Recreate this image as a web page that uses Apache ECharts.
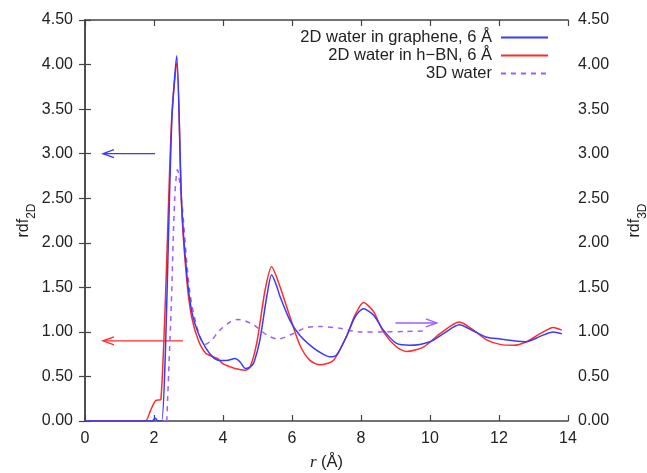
<!DOCTYPE html>
<html>
<head>
<meta charset="utf-8">
<script src="https://cdn.jsdelivr.net/npm/echarts@6/dist/echarts.min.js"></script>
<style>
  html, body { margin: 0; padding: 0; background: #fff; }
  #main { width: 647px; height: 473px; }
</style>
</head>
<body>
<div id="main"></div>
<script>
// r values (Å) and rdf values
var rGraphene = [0, 1.95, 2.0, 2.05, 2.1, 2.22, 2.52, 2.66, 2.8, 2.95, 3.1, 3.3, 3.5, 3.7, 3.9, 4.1, 4.35, 4.5, 4.65, 4.8, 4.9, 5.07, 5.27, 5.41, 5.55, 5.65, 5.94, 6.23, 6.62, 6.9, 7.1, 7.29, 7.58, 7.83, 8.07, 8.36, 8.65, 9.03, 9.42, 10.0, 10.39, 10.85, 11.26, 11.64, 12.03, 12.42, 12.8, 13.19, 13.57, 13.82];
var gGraphene = [0, 0, 0.02, 0.03, 0, 0, 3.4, 4.1, 2.45, 1.65, 1.22, 0.97, 0.82, 0.72, 0.68, 0.68, 0.70, 0.66, 0.59, 0.61, 0.66, 0.91, 1.40, 1.64, 1.52, 1.40, 1.13, 0.96, 0.82, 0.75, 0.72, 0.74, 0.95, 1.17, 1.26, 1.19, 1.02, 0.87, 0.85, 0.89, 0.98, 1.08, 1.01, 0.94, 0.92, 0.90, 0.89, 0.95, 1.00, 0.98];

var rHBN = [0, 1.74, 1.9, 2.05, 2.2, 2.51, 2.66, 2.8, 2.95, 3.09, 3.29, 3.5, 3.72, 3.85, 4.0, 4.35, 4.64, 4.78, 4.98, 5.22, 5.41, 5.65, 5.94, 6.23, 6.52, 6.81, 7.2, 7.58, 7.83, 8.07, 8.36, 8.65, 9.03, 9.32, 9.81, 10.29, 10.85, 11.26, 11.64, 12.03, 12.42, 12.8, 13.19, 13.57, 13.82];
var gHBN = [0, 0, 0.12, 0.23, 0.24, 3.38, 4.02, 2.4, 1.58, 1.17, 0.9, 0.76, 0.72, 0.7, 0.64, 0.59, 0.57, 0.6, 0.88, 1.47, 1.73, 1.51, 1.17, 0.85, 0.68, 0.63, 0.68, 0.95, 1.19, 1.33, 1.23, 1.0, 0.83, 0.78, 0.83, 0.98, 1.11, 1.02, 0.91, 0.86, 0.85, 0.89, 0.98, 1.05, 1.02];

var r3D = [2.37, 2.5, 2.6, 2.68, 2.8, 3.04, 3.29, 3.48, 3.65, 3.91, 4.2, 4.44, 4.88, 5.27, 5.6, 5.94, 6.43, 6.81, 7.39, 7.97, 8.64, 9.3, 9.9];
var g3D = [0, 1.3, 2.5, 2.82, 2.48, 1.44, 0.99, 0.86, 0.9, 1.02, 1.11, 1.14, 1.08, 0.965, 0.92, 0.965, 1.05, 1.06, 1.04, 1.0, 1.0, 1.005, 1.01];

var seriesNames = ['2D water in graphene, 6 Å', '2D water in h\u2212BN, 6 Å', '3D water'];

// arrows: [x from, y, x to, y]
var arrowBlue = [2.03, 3.0, 0.52, 3.0];
var arrowRed = [2.84, 0.9, 0.52, 0.9];
var arrowPurple = [9.0, 1.1, 10.2, 1.1];

function pairs(xs, ys) {
    var out = [];
    for (var i = 0; i < xs.length; i++) {
        out.push([xs[i], ys[i]]);
    }
    return out;
}

var fontFam = '"Liberation Sans", Arial, sans-serif';
var axisColor = '#444';
var textColor = '#222';

function arrowItem(params, api) {
    var p0 = api.coord([api.value(0), api.value(1)]);
    var p1 = api.coord([api.value(2), api.value(3)]);
    var dx = p1[0] - p0[0], dy = p1[1] - p0[1];
    var len = Math.sqrt(dx * dx + dy * dy);
    var ux = dx / len, uy = dy / len;
    var hl = 11, hw = 4;
    var color = api.visual('color');
    return {
        type: 'group',
        children: [{
            type: 'line',
            shape: {x1: p0[0], y1: p0[1], x2: p1[0], y2: p1[1]},
            style: {stroke: color, lineWidth: 1.3}
        }, {
            type: 'polyline',
            shape: {points: [
                [p1[0] - ux * hl - uy * hw, p1[1] - uy * hl + ux * hw],
                [p1[0], p1[1]],
                [p1[0] - ux * hl + uy * hw, p1[1] - uy * hl - ux * hw]
            ]},
            style: {stroke: color, lineWidth: 1.3, fill: null}
        }]
    };
}

function arrowSeries(arr, color) {
    return {
        type: 'custom',
        renderItem: arrowItem,
        itemStyle: {color: color},
        encode: {x: [0, 2], y: [1, 3]},
        data: [arr],
        silent: true,
        z: 1
    };
}

var yAxisBase = {
    type: 'value',
    min: 0,
    max: 4.5,
    interval: 0.5,
    nameLocation: 'middle',
    nameRotate: 90,
    nameMoveOverlap: false,
    axisLine: {show: true, lineStyle: {color: axisColor, width: 1.5}},
    axisTick: {show: true, inside: true, length: 6, lineStyle: {color: axisColor, width: 1.2}},
    splitLine: {show: false},
    axisLabel: {
        color: textColor, fontSize: 16, fontFamily: fontFam,
        formatter: function (v) { return v.toFixed(2); }
    }
};

var nameRich = {
    a: {fontSize: 16, fontFamily: fontFam, color: textColor},
    s: {fontSize: 12, fontFamily: fontFam, color: textColor, verticalAlign: 'bottom', padding: [0, 0, -6, 0]}
};

var dom = document.getElementById('main');
var myChart = echarts.init(dom);
var option = {
    backgroundColor: '#fff',
    animation: false,
    grid: {left: 85, right: 79, top: 20, bottom: 52, containLabel: false, outerBoundsMode: 'none'},
    legend: {
        orient: 'vertical',
        right: 93,
        top: 24,
        align: 'right',
        itemWidth: 47,
        itemHeight: 10,
        itemGap: 1,
        selectedMode: false,
        data: seriesNames,
        itemStyle: {opacity: 0},
        textStyle: {color: textColor, fontSize: 16.5, fontFamily: fontFam, padding: [0, 4, 0, 0]}
    },
    xAxis: [{
        type: 'value',
        min: 0,
        max: 14,
        interval: 2,
        name: '{i|r} (Å)',
        nameLocation: 'middle',
        nameGap: 33,
        nameMoveOverlap: false,
        nameTextStyle: {
            rich: {
                i: {fontSize: 17, fontFamily: '"Liberation Serif", serif', fontStyle: 'italic', color: textColor}
            },
            fontSize: 16.5, fontFamily: fontFam, color: textColor
        },
        axisLine: {show: true, onZero: false, lineStyle: {color: axisColor, width: 1.5}},
        axisTick: {show: true, inside: true, length: 6, lineStyle: {color: axisColor, width: 1.2}},
        splitLine: {show: false},
        axisLabel: {color: textColor, fontSize: 16, fontFamily: fontFam, margin: 10}
    }, {
        type: 'value',
        position: 'top',
        min: 0,
        max: 14,
        interval: 2,
        axisLine: {show: true, onZero: false, lineStyle: {color: axisColor, width: 1.5}},
        axisTick: {show: true, inside: true, length: 6, lineStyle: {color: axisColor, width: 1.2}},
        splitLine: {show: false},
        axisLabel: {show: false}
    }],
    yAxis: [
        echarts.util.merge({
            position: 'left',
            name: '{a|rdf}{s|2D}',
            nameGap: 53,
            nameTextStyle: {rich: nameRich},
            axisLabel: {margin: 12}
        }, yAxisBase),
        echarts.util.merge({
            position: 'right',
            name: '{a|rdf}{s|3D}',
            nameGap: 59,
            nameTextStyle: {rich: nameRich},
            axisLabel: {margin: 10}
        }, yAxisBase)
    ],
    series: [{
        name: seriesNames[0],
        type: 'line',
        data: pairs(rGraphene, gGraphene),
        symbol: 'none',
        smooth: 0.25,
        lineStyle: {color: '#3a3aff', width: 1.5},
        itemStyle: {color: '#3a3aff'},
        z: 3
    }, {
        name: seriesNames[1],
        type: 'line',
        data: pairs(rHBN, gHBN),
        symbol: 'none',
        smooth: 0.25,
        lineStyle: {color: '#ff2a2a', width: 1.5},
        itemStyle: {color: '#ff2a2a'},
        z: 2
    }, {
        name: seriesNames[2],
        type: 'line',
        yAxisIndex: 1,
        data: pairs(r3D, g3D),
        symbol: 'none',
        smooth: 0.3,
        lineStyle: {color: '#9f5cff', width: 1.5, type: [5, 5]},
        itemStyle: {color: '#9f5cff'},
        z: 2
    },
        arrowSeries(arrowBlue, '#3a3aff'),
        arrowSeries(arrowRed, '#ff2a2a'),
        arrowSeries(arrowPurple, '#9f5cff')
    ]
};
myChart.setOption(option, true);
</script>
</body>
</html>
